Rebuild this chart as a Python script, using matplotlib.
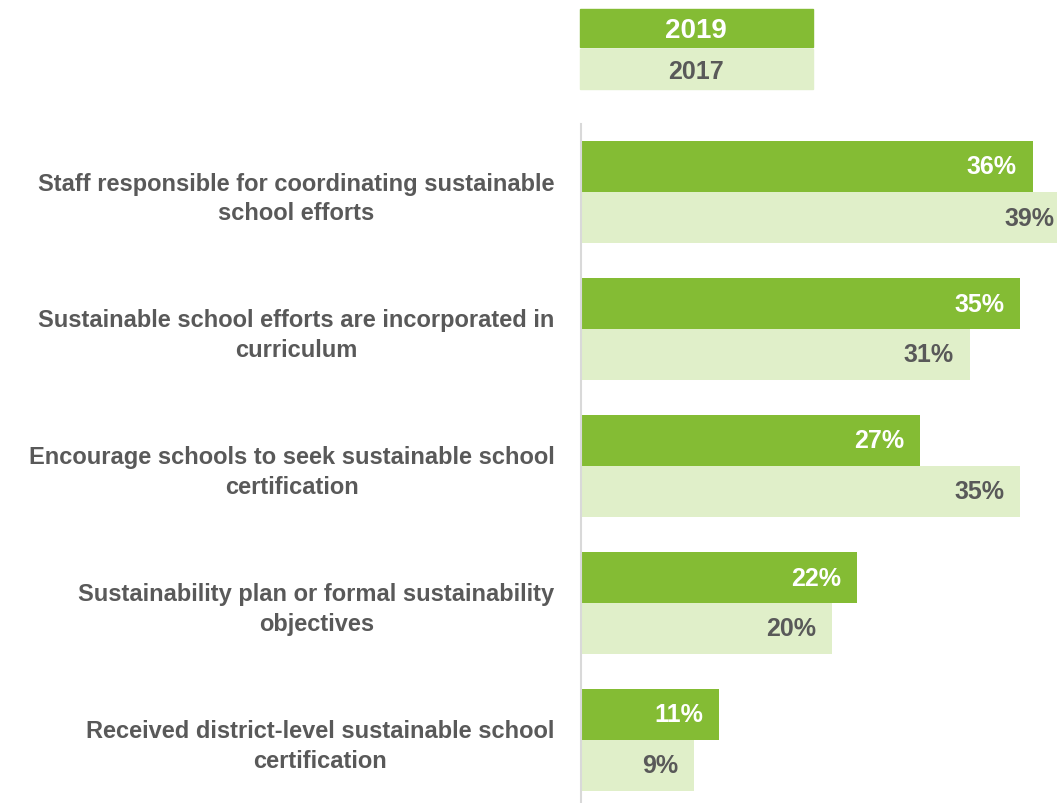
import matplotlib.pyplot as plt
import numpy as np

categories = ['Staff responsible for coordinating sustainable\nschool efforts',
              'Sustainable school efforts are incorporated in\ncurriculum',
              'Encourage schools to seek sustainable school\ncertification',
              'Sustainability plan or formal sustainability\nobjectives',
              'Received district-level sustainable school\ncertification']
vals_2019 = [36, 35, 27, 22, 11]
vals_2017 = [39, 31, 35, 20, 9]
series_names = ['2019', '2017']

dark_green = '#84BC34'
light_green = '#E0EFC9'
gray = '#595959'
fam = ['Liberation Sans Narrow', 'Liberation Sans', 'DejaVu Sans']
plt.rcParams['font.family'] = fam
plt.rcParams['font.weight'] = 'bold'

fig = plt.figure(figsize=(10.57, 8.04), dpi=100)
ax = fig.add_axes([581 / 1057, 0, 476 / 1057, 1 - 125 / 804])

y = np.arange(len(categories))
h = 51 / 137
ax.barh(y - h / 2, vals_2019, height=h, color=dark_green)
ax.barh(y + h / 2, vals_2017, height=h, color=light_green)

for i in range(len(categories)):
    ax.annotate('%d%%' % vals_2019[i], (vals_2019[i], y[i] - h / 2), xytext=(-11.5, 0),
                textcoords='offset points', ha='right', va='center',
                color='white', fontsize=18, fontweight='bold', annotation_clip=False)
    ax.annotate('%d%%' % vals_2017[i], (vals_2017[i], y[i] + h / 2), xytext=(-11.5, 0),
                textcoords='offset points', ha='right', va='center',
                color=gray, fontsize=18, fontweight='bold', annotation_clip=False)

ax.set_xlim(0, 476 / 12.55)
ax.set_ylim(len(categories) - 1 + 63 / 137, -68 / 137)
ax.set_yticks(y)
ax.set_yticklabels(categories, multialignment='center', fontsize=17,
                   fontweight='bold', color=gray, linespacing=1.35)
ax.tick_params(axis='y', length=0, pad=19)
ax.tick_params(axis='x', bottom=False, labelbottom=False)
for pos in ['right', 'top', 'bottom']:
    ax.spines[pos].set_visible(False)
ax.spines['left'].set_color('#D9D9D9')
ax.spines['left'].set_linewidth(1.5)

# legend boxes at the top
W, H = 1057, 804
fig.patches.append(plt.Rectangle((580 / W, 1 - 48 / H), 233 / W, 38 / H,
                                 transform=fig.transFigure, color=dark_green))
fig.patches.append(plt.Rectangle((580 / W, 1 - 90 / H), 233 / W, 40 / H,
                                 transform=fig.transFigure, color=light_green))
fig.text(696 / W, 1 - 31 / H, series_names[0], ha='center', va='center',
         color='white', fontsize=20, fontweight='bold')
fig.text(696 / W, 1 - 72 / H, series_names[1], ha='center', va='center',
         color=gray, fontsize=18, fontweight='bold')

plt.savefig('out.png', dpi=100)
